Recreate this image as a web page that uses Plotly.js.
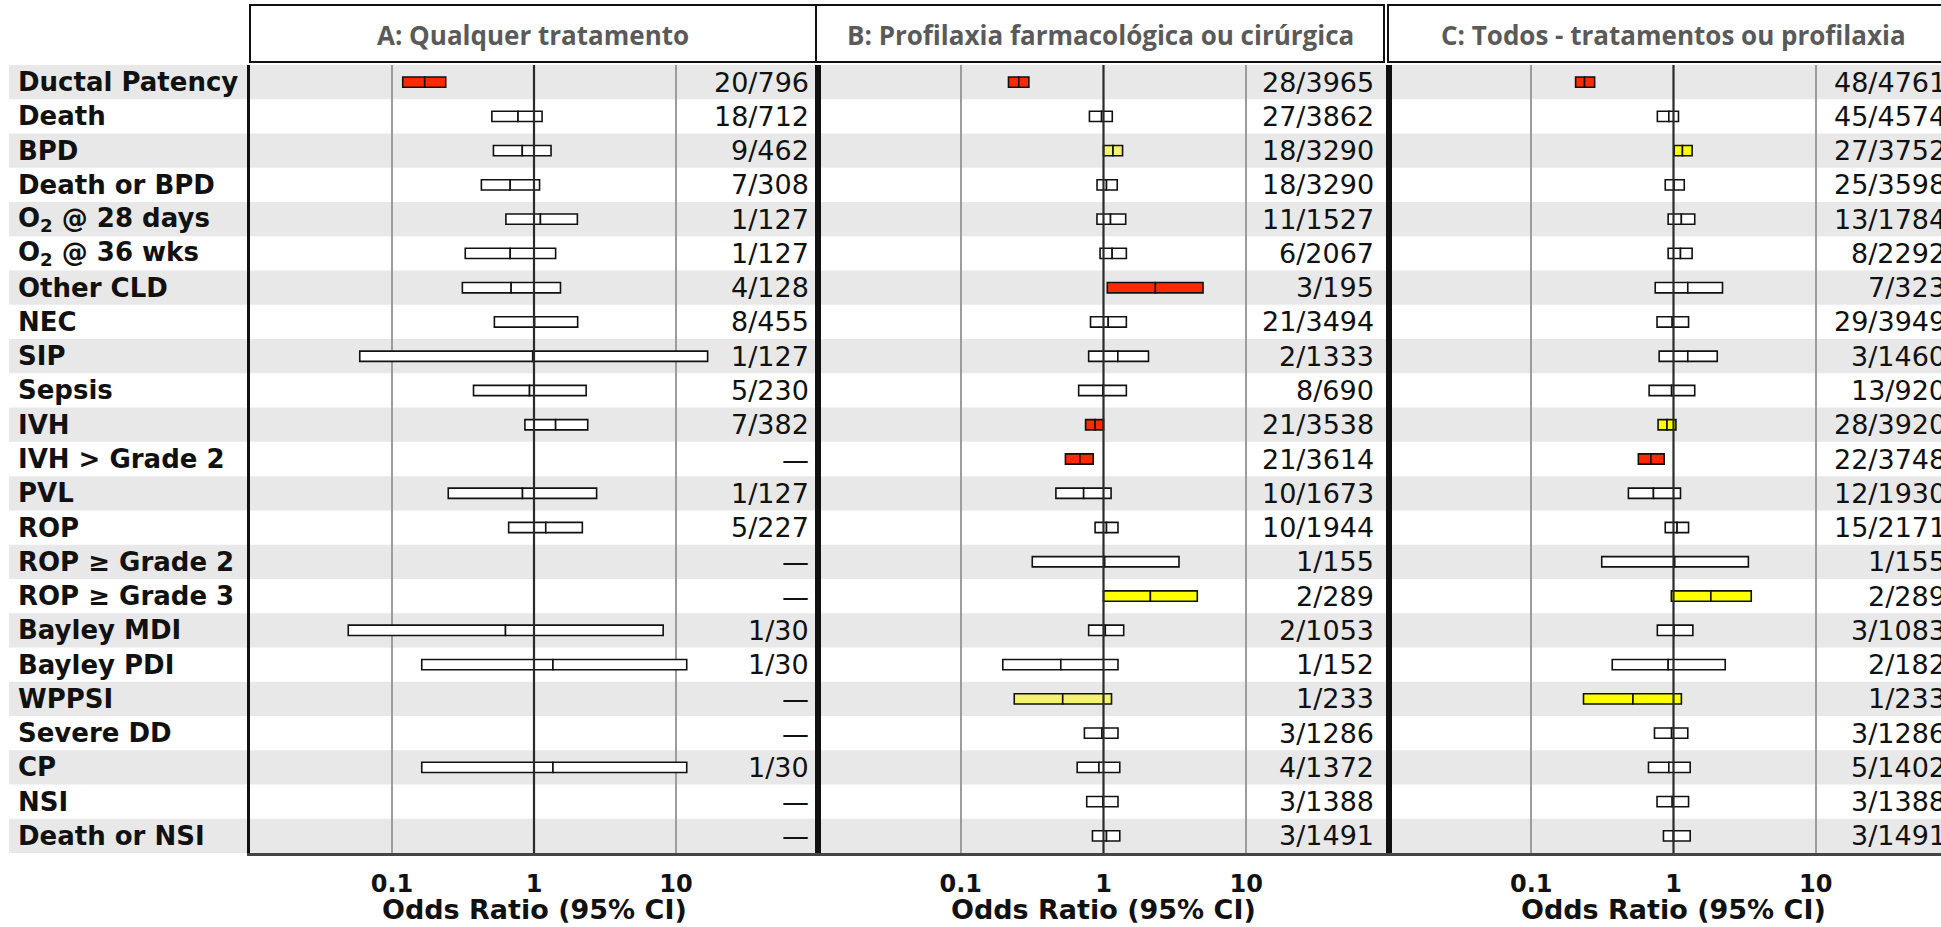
<!DOCTYPE html>
<html>
<head>
<meta charset="utf-8">
<script src="https://cdn.plot.ly/plotly-3.0.1.min.js"></script>
<style>
html,body{margin:0;padding:0;overflow:hidden;background:#fff;}
#chart{width:1958px;height:927px;}
</style>
</head>
<body>
<div id="chart"></div>
<script>
// ---------------- data ----------------
const outcomes = ['Ductal Patency','Death','BPD','Death or BPD','O<sub>2</sub> @ 28 days','O<sub>2</sub> @ 36 wks','Other CLD','NEC','SIP','Sepsis','IVH','IVH > Grade 2','PVL','ROP','ROP ≥ Grade 2','ROP ≥ Grade 3','Bayley MDI','Bayley PDI','WPPSI','Severe DD','CP','NSI','Death or NSI'];

const panelTitles = ['A: Qualquer tratamento','B: Profilaxia farmacológica ou cirúrgica','C: Todos - tratamentos ou profilaxia'];
const tickVals = [0.1, 1, 10];
const tickLabels = ['0.1', '1', '10'];
const axisTitle = 'Odds Ratio (95% CI)';

// Panel A: any treatment
const loA = [0.119,0.505,0.518,0.426,0.634,0.328,0.313,0.526,0.0593,0.375,0.863,null,0.249,0.663,null,null,0.0492,0.162,null,null,0.162,null,null];
const orA = [0.170,0.772,0.827,0.680,1.11,0.680,0.690,1.01,0.98,0.93,1.42,null,0.83,1.21,null,null,0.63,1.36,null,null,1.36,null,null];
const hiA = [0.239,1.14,1.318,1.094,2.02,1.42,1.536,2.03,16.7,2.33,2.39,null,2.76,2.19,null,null,8.12,11.9,null,null,11.9,null,null];
const nA  = ['20/796','18/712','9/462','7/308','1/127','1/127','4/128','8/455','1/127','5/230','7/382','—','1/127','5/227','—','—','1/30','1/30','—','—','1/30','—','—'];
const sigA = ['sig','ns','ns','ns','ns','ns','ns','ns','ns','ns','ns','ns','ns','ns','ns','ns','ns','ns','ns','ns','ns','ns','ns'];

// Panel B: pharmacological or surgical prophylaxis
const loB = [0.216,0.797,1.0,0.901,0.90,0.946,1.063,0.811,0.787,0.67,0.749,0.541,0.464,0.873,0.317,1.0,0.787,0.197,0.237,0.735,0.654,0.763,0.837];
const orB = [0.255,0.97,1.166,1.05,1.12,1.15,2.31,1.08,1.26,0.99,0.873,0.683,0.726,1.05,1.02,2.13,1.03,0.502,0.518,0.976,0.929,0.99,1.05];
const hiB = [0.30,1.152,1.36,1.248,1.43,1.446,4.98,1.446,2.066,1.446,1.0,0.847,1.13,1.263,3.38,4.54,1.385,1.263,1.138,1.263,1.30,1.263,1.30];
const nB  = ['28/3965','27/3862','18/3290','18/3290','11/1527','6/2067','3/195','21/3494','2/1333','8/690','21/3538','21/3614','10/1673','10/1944','1/155','2/289','2/1053','1/152','1/233','3/1286','4/1372','3/1388','3/1491'];
const sigB = ['sig','ns','weak','ns','ns','ns','sig','ns','ns','ns','sig','sig','ns','ns','ns','trend','ns','ns','weak','ns','ns','ns','ns'];

// Panel C: all - treatment or prophylaxis
const loC = [0.205,0.77,1.012,0.875,0.917,0.917,0.744,0.766,0.793,0.674,0.779,0.566,0.482,0.875,0.313,0.966,0.77,0.371,0.233,0.735,0.667,0.766,0.85];
const orC = [0.237,0.927,1.156,1.01,1.136,1.12,1.26,0.98,1.26,0.97,0.90,0.694,0.723,1.06,1.02,1.83,1.01,0.917,0.519,0.97,0.927,0.98,1.0];
const hiC = [0.279,1.084,1.352,1.19,1.41,1.352,2.21,1.276,2.03,1.41,1.04,0.86,1.12,1.276,3.36,3.52,1.368,2.31,1.136,1.26,1.31,1.276,1.31];
const nC  = ['48/4761','45/4574','27/3752','25/3598','13/1784','8/2292','7/323','29/3949','3/1460','13/920','28/3920','22/3748','12/1930','15/2171','1/155','2/289','3/1083','2/182','1/233','3/1286','5/1402','3/1388','3/1491'];
const sigC = ['sig','ns','trend','ns','ns','ns','ns','ns','ns','ns','trend','sig','ns','ns','ns','trend','ns','ns','trend','ns','ns','ns','ns'];

const NULL_OR = 1;

// ---------------- styles / layout helpers ----------------
const sigColor = {sig:'#ff2a00', trend:'#ffff00', weak:'#f3f36e', ns:'#ffffff'};
const W = 1958, H = 927;
const ML = 250, MT = 65, MB = 74;
const plotW = W - ML, plotH = H - MT - MB;
const px = v => (v - ML) / plotW;        // pixel -> paper x
const py = v => (H - MB - v) / plotH;    // pixel -> paper y
const domains = [[0, px(818)], [px(818), px(1389)], [px(1389), 1]];
const countRight = [811, 1376, 1948];     // right edge of count column (px)
const boxEdges = [[250, 816], [816, 1384], [1388, 1962]];

const rowIdx = outcomes.map((_, i) => i);
const panels = [
  {lo: loA, or: orA, hi: hiA, n: nA, sig: sigA},
  {lo: loB, or: orB, hi: hiB, n: nB, sig: sigB},
  {lo: loC, or: orC, hi: hiC, n: nC, sig: sigC}
];

const traces = [];
const shapes = [];
const annotations = [];
const layout = {
  width: W, height: H,
  margin: {l: ML, r: 0, t: MT, b: MB, pad: 0},
  paper_bgcolor: '#ffffff',
  plot_bgcolor: 'rgba(0,0,0,0)',
  showlegend: false,
  hovermode: false,
  barmode: 'overlay',
  font: {family: 'DejaVu Sans', color: '#111'}
};

// row bands
rowIdx.forEach(i => {
  if (i % 2 === 0) {
    shapes.push({type: 'rect', xref: 'paper', yref: 'y', x0: px(9), x1: 1.02, y0: i - 0.5, y1: i + 0.5,
      fillcolor: '#e8e8e8', line: {width: 0}, layer: 'below'});
  }
});

// row labels
outcomes.forEach((lab, i) => {
  annotations.push({xref: 'paper', yref: 'y', x: px(16), y: i, xanchor: 'left', yanchor: 'middle',
    text: lab, showarrow: false, font: {family: 'DejaVu Sans', size: 26, color: '#111', weight: 'bold'}});
});

panels.forEach((p, k) => {
  const sfx = k === 0 ? '' : String(k + 1);
  const xa = 'x' + sfx, ya = 'y' + sfx;
  const colors = p.sig.map(s => sigColor[s]);
  const common = {type: 'bar', orientation: 'h', y: rowIdx, width: 0.3, xaxis: xa, yaxis: ya,
    marker: {color: colors, line: {color: '#111', width: 1.6}}, hoverinfo: 'skip'};
  traces.push(Object.assign({}, common, {
    base: p.lo, x: p.lo.map((v, i) => v == null ? null : p.or[i] - v)}));
  traces.push(Object.assign({}, common, {
    base: p.or, x: p.or.map((v, i) => v == null ? null : p.hi[i] - v)}));

  layout['xaxis' + sfx] = {
    type: 'log', range: [-2, 2], domain: domains[k], anchor: ya,
    tickvals: tickVals, ticktext: tickLabels, ticks: 'outside', ticklen: 7, tickcolor: 'rgba(0,0,0,0)',
    tickfont: {family: 'DejaVu Sans', size: 24, color: '#111', weight: 'bold'},
    showgrid: true, gridcolor: '#9c9c9c', gridwidth: 1.6,
    showline: true, linecolor: '#444', linewidth: 3, mirror: false, zeroline: false,
    fixedrange: true, automargin: false
  };
  layout['yaxis' + sfx] = {
    range: [outcomes.length - 0.5, -0.5], domain: [0, 1], anchor: xa,
    showticklabels: false, ticks: '', showgrid: false, zeroline: false,
    showline: true, linecolor: '#111', linewidth: 3, mirror: true, fixedrange: true
  };

  // OR = 1 reference line
  shapes.push({type: 'line', xref: xa, yref: ya + ' domain', x0: NULL_OR, x1: NULL_OR, y0: 0, y1: 1,
    line: {color: '#2a2a2a', width: 2.2}, layer: 'above'});

  // counts column
  p.n.forEach((t, i) => {
    annotations.push({xref: 'paper', yref: ya, x: px(countRight[k]), y: i, xanchor: 'right', yanchor: 'middle',
      text: t, showarrow: false, font: {family: 'DejaVu Sans', size: 27, color: '#111'}});
  });

  // axis title (centred under OR = 1)
  annotations.push({xref: xa, yref: 'paper', x: Math.log10(NULL_OR), y: py(909), xanchor: 'center', yanchor: 'middle',
    text: axisTitle, showarrow: false, font: {family: 'DejaVu Sans', size: 27, color: '#111', weight: 'bold'}});

  // title box
  const [b0, b1] = boxEdges[k];
  shapes.push({type: 'rect', xref: 'paper', yref: 'paper', x0: px(b0), x1: px(b1), y0: py(62), y1: py(5),
    line: {color: '#111', width: 2}, fillcolor: 'rgba(0,0,0,0)', layer: 'above'});
  annotations.push({xref: 'paper', yref: 'paper', x: px((b0 + Math.min(b1, 1958)) / 2), y: py(35), xanchor: 'center', yanchor: 'middle',
    text: panelTitles[k], showarrow: false, font: {family: 'Open Sans', size: 26, color: '#5a5a5a', weight: 'bold'}});
});

layout.shapes = shapes;
layout.annotations = annotations;

Plotly.newPlot('chart', traces, layout, {staticPlot: true, displayModeBar: false});
</script>
</body>
</html>
